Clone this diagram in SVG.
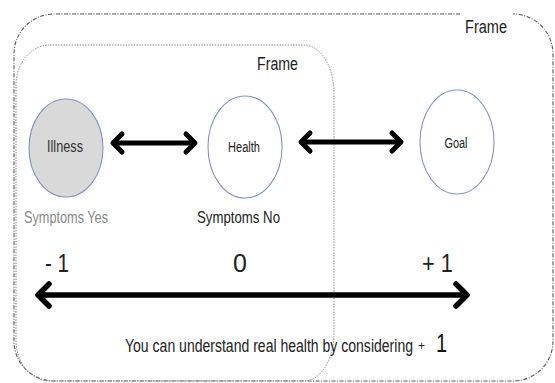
<svg xmlns="http://www.w3.org/2000/svg" width="555" height="383" viewBox="0 0 555 383">
<defs>
<style>
text{font-family:"Liberation Sans",Arial,sans-serif;}
.frame-outer{fill:none;stroke:#555;stroke-width:1.1;stroke-dasharray:4 1.5 1 1.5;}
.frame-inner{fill:none;stroke:#8a8a8a;stroke-width:1;stroke-dasharray:1.5 1.2;}
.node-c{stroke:#8193c2;stroke-width:1.1;}
.conn{stroke:#000;fill:none;stroke-linecap:butt;}
.lbl{fill:#222;}
</style>
<marker id="ah" markerUnits="userSpaceOnUse" viewBox="-14 -14 18 28" refX="0" refY="0" markerWidth="18" markerHeight="28" orient="auto-start-reverse">
<path d="M-9,-9 L0,0 L-9,9" fill="none" stroke="#000" stroke-width="5" stroke-linecap="round" stroke-linejoin="round"/>
</marker>
<marker id="ahb" markerUnits="userSpaceOnUse" viewBox="-16 -16 20 32" refX="0" refY="0" markerWidth="20" markerHeight="32" orient="auto-start-reverse">
<path d="M-11,-11 L0,0 L-11,11" fill="none" stroke="#000" stroke-width="5.5" stroke-linecap="round" stroke-linejoin="round"/>
</marker>
</defs>
<rect width="555" height="383" fill="#fff"/>

<g id="frame-outer">
<path class="frame-outer" d="M460,14 L54,14 A40,40 0 0 0 14,54 L14,341 A40,40 0 0 0 54,381 L513,381 A40,40 0 0 0 553,341 L553,54 A40,40 0 0 0 513,14"/>
<text x="465" y="33" font-size="18" textLength="42" lengthAdjust="spacingAndGlyphs" class="lbl">Frame</text>
</g>

<g id="frame-inner">
<path class="frame-inner" d="M50,45 L304,45 A30,48 0 0 1 334,93 L334,333 A30,48 0 0 1 304,381 L50,381 A34,40 0 0 1 16,341 L16,85 A34,40 0 0 1 50,45 Z"/>
<text x="257" y="70" font-size="18" textLength="41" lengthAdjust="spacingAndGlyphs" class="lbl">Frame</text>
</g>

<g id="illness">
<ellipse class="node-c" cx="66" cy="148" rx="37" ry="49" fill="#d9d9d9"/>
<text x="65" y="152" font-size="16" text-anchor="middle" textLength="36" lengthAdjust="spacingAndGlyphs" fill="#333">Illness</text>
<text x="24" y="223" font-size="17" textLength="84" lengthAdjust="spacingAndGlyphs" fill="#888">Symptoms Yes</text>
</g>

<g id="health">
<ellipse class="node-c" cx="245" cy="147" rx="37" ry="51" fill="#fff"/>
<text x="244" y="152" font-size="14" text-anchor="middle" textLength="32" lengthAdjust="spacingAndGlyphs" fill="#222">Health</text>
<text x="197" y="223" font-size="17" textLength="83" lengthAdjust="spacingAndGlyphs" fill="#222">Symptoms No</text>
</g>

<g id="goal">
<ellipse class="node-c" cx="457" cy="142" rx="37" ry="52" fill="#fff"/>
<text x="456" y="148" font-size="14" text-anchor="middle" textLength="23" lengthAdjust="spacingAndGlyphs" fill="#222">Goal</text>
</g>

<g id="scale-labels">
<text x="45" y="272" font-size="25" textLength="24" lengthAdjust="spacingAndGlyphs" class="lbl">- 1</text>
<text x="240" y="272" font-size="25" text-anchor="middle" class="lbl">0</text>
<text x="422" y="272" font-size="25" textLength="31" lengthAdjust="spacingAndGlyphs" class="lbl">+ 1</text>
</g>

<g id="connectors">
<line class="conn" x1="113" y1="143" x2="195" y2="143" stroke-width="5" marker-start="url(#ah)" marker-end="url(#ah)"/>
<line class="conn" x1="301" y1="142" x2="401" y2="142" stroke-width="5" marker-start="url(#ah)" marker-end="url(#ah)"/>
<line class="conn" x1="38" y1="295" x2="467" y2="295" stroke-width="5.5" marker-start="url(#ahb)" marker-end="url(#ahb)"/>
</g>

<g id="caption">
<text transform="translate(125,352) scale(1,1.35)" x="0" y="0" font-size="14" textLength="288" lengthAdjust="spacingAndGlyphs" class="lbl">You can understand real health by considering</text>
<text x="418" y="350" font-size="12" class="lbl">+</text>
<text transform="translate(436,352) scale(0.8,1)" x="0" y="0" font-size="25" fill="#111">1</text>
</g>
</svg>
